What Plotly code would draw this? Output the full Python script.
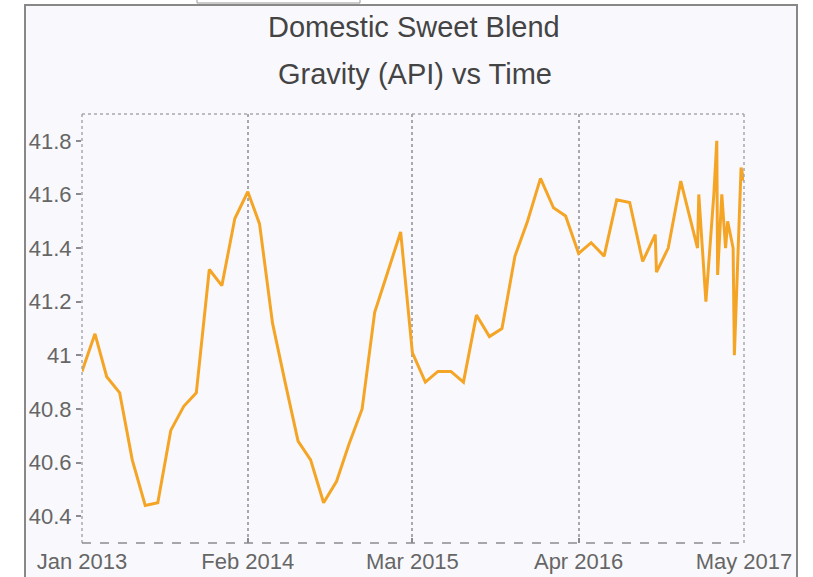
import plotly.graph_objects as go

dates = [
    "2013-01-01", "2013-02-01", "2013-03-01", "2013-04-01", "2013-05-01", "2013-06-01",
    "2013-07-01", "2013-08-01", "2013-09-01", "2013-10-01", "2013-11-01", "2013-12-01",
    "2014-01-01", "2014-02-01", "2014-03-01", "2014-04-01", "2014-05-01", "2014-06-01",
    "2014-07-01", "2014-08-01", "2014-09-01", "2014-10-01", "2014-11-01", "2014-12-01",
    "2015-01-01", "2015-02-01", "2015-03-01", "2015-04-01", "2015-05-01", "2015-06-01",
    "2015-07-01", "2015-08-01", "2015-09-01", "2015-10-01", "2015-11-01", "2015-12-01",
    "2016-01-01", "2016-02-01", "2016-03-01", "2016-04-01", "2016-05-01", "2016-06-01",
    "2016-07-01", "2016-08-01", "2016-09-01", "2016-10-01", "2016-10-04", "2016-11-01",
    "2016-12-01", "2017-01-10", "2017-01-13", "2017-01-30", "2017-02-18", "2017-02-25",
    "2017-02-27", "2017-03-09", "2017-03-18", "2017-03-23", "2017-04-05", "2017-04-08",
    "2017-04-24", "2017-05-01",
]
gravity = [
    40.94, 41.08, 40.92, 40.86, 40.61, 40.44,
    40.45, 40.72, 40.81, 40.86, 41.32, 41.26,
    41.51, 41.61, 41.49, 41.12, 40.90, 40.68,
    40.61, 40.45, 40.53, 40.67, 40.80, 41.16,
    41.31, 41.46, 41.01, 40.90, 40.94, 40.94,
    40.90, 41.15, 41.07, 41.10, 41.37, 41.50,
    41.66, 41.55, 41.52, 41.38, 41.42, 41.37,
    41.58, 41.57, 41.35, 41.45, 41.31, 41.40,
    41.65, 41.40, 41.60, 41.20, 41.60, 41.80,
    41.30, 41.60, 41.40, 41.50, 41.40, 41.00,
    41.70, 41.65,
]
tick_dates = ["2013-01-01", "2014-02-01", "2015-03-01", "2016-04-01", "2017-05-01"]
tick_text = ["Jan 2013", "Feb 2014", "Mar 2015", "Apr 2016", "May 2017"]
y_ticks = [40.4, 40.6, 40.8, 41.0, 41.2, 41.4, 41.6, 41.8]
y_text = ["40.4", "40.6", "40.8", "41", "41.2", "41.4", "41.6", "41.8"]

FONT = "Liberation Sans, Arial, sans-serif"
L, R, T, B = 82, 744, 114, 543
W, H = 813, 577


def px(x):
    return (x - L) / (R - L)


def py(y):
    return (B - y) / (B - T)


fig = go.Figure()
fig.add_trace(go.Scatter(
    x=dates, y=gravity, mode="lines",
    line=dict(color="#F5A526", width=3),
    showlegend=False, hoverinfo="x+y",
))

dot_line = dict(color="#A8A8B0", width=1.5, dash="dot")
shapes = [
    # outer frame
    dict(type="rect", xref="paper", yref="paper",
         x0=px(25), x1=px(797), y0=py(600), y1=py(5),
         fillcolor="#F9F9FD", line=dict(color="#888888", width=2), layer="below"),
    # top cut-off box
    dict(type="rect", xref="paper", yref="paper",
         x0=px(197), x1=px(360), y0=py(3), y1=py(-5),
         fillcolor="#FFFFFF", line=dict(color="#999999", width=1), layer="below"),
    # top dotted border
    dict(type="line", xref="paper", yref="paper", x0=0, x1=1, y0=1, y1=1, line=dot_line),
    # left dotted border (Jan 2013 grid)
    dict(type="line", xref="paper", yref="paper", x0=0, x1=0, y0=0, y1=1, line=dot_line),
    # right dotted border (May 2017 grid)
    dict(type="line", xref="paper", yref="paper", x0=1, x1=1, y0=0, y1=1, line=dot_line),
    # bottom dashed axis
    dict(type="line", xref="paper", yref="paper",
         x0=0, x1=1, y0=0, y1=0,
         line=dict(color="#8A8A90", width=1.5, dash="dash")),
]

fig.update_layout(
    width=W, height=H,
    margin=dict(l=L, r=W - R, t=T, b=H - B, pad=0, autoexpand=False),
    paper_bgcolor="#FFFFFF",
    plot_bgcolor="rgba(0,0,0,0)",
    shapes=shapes,
    annotations=[
        dict(text="Domestic Sweet Blend", xref="paper", yref="paper",
             x=px(414), y=py(27), xanchor="center", yanchor="middle",
             showarrow=False, font=dict(family=FONT, size=29, color="#444444")),
        dict(text="Gravity (API) vs Time", xref="paper", yref="paper",
             x=px(415), y=py(74), xanchor="center", yanchor="middle",
             showarrow=False, font=dict(family=FONT, size=29, color="#444444")),
    ],
    xaxis=dict(
        type="date",
        range=["2013-01-01", "2017-05-01"],
        tickvals=tick_dates, ticktext=tick_text,
        showgrid=True, gridcolor="#A8A8B0", gridwidth=1.5, griddash="dot",
        showline=False, zeroline=False, automargin=False,
        ticks="inside", ticklen=5, tickcolor="#8A8A90", tickwidth=1.5,
        ticklabelstandoff=3,
        tickfont=dict(family=FONT, size=22, color="#666666"),
        fixedrange=True,
    ),
    yaxis=dict(
        range=[40.3, 41.9],
        tickvals=y_ticks, ticktext=y_text,
        showgrid=False, showline=False, zeroline=False, automargin=False,
        ticks="outside", ticklen=5, tickcolor="#8A8A90", tickwidth=1.5,
        tickfont=dict(family=FONT, size=22, color="#666666"),
        fixedrange=True,
    ),
)

fig.write_html(
    "out.html",
    config={"displayModeBar": False},
    post_script="document.body.style.margin='0';document.body.style.overflow='hidden';",
)
